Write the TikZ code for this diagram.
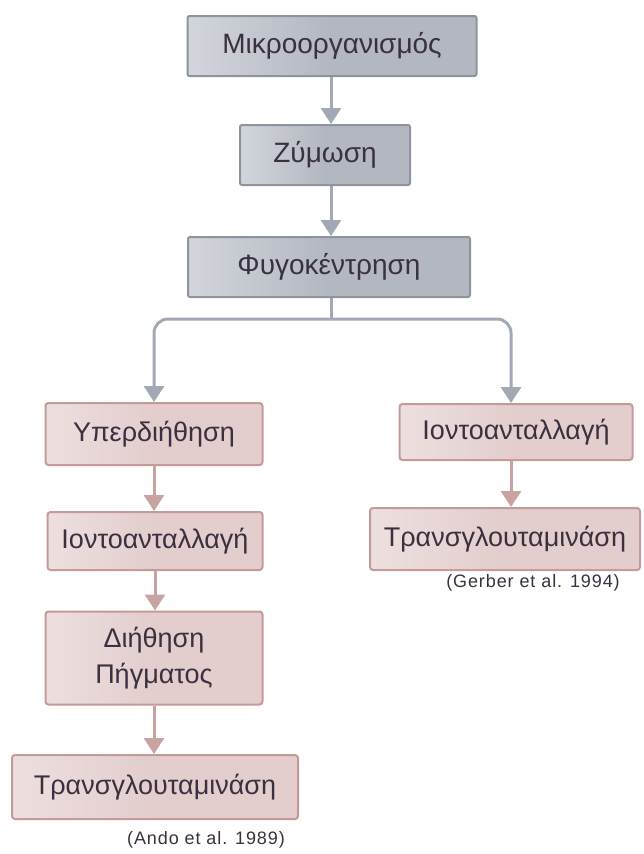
\documentclass[tikz,border=0pt]{standalone}
\usepackage{fontspec}
\setmainfont{Liberation Sans}
\usetikzlibrary{arrows.meta,positioning}
\definecolor{grayfill}{HTML}{B3B7C0}
\definecolor{graylite}{HTML}{D2D5DB}
\definecolor{grayedge}{HTML}{8E939C}
\definecolor{grayarrow}{HTML}{A2A9B4}
\definecolor{pinkfill}{HTML}{E3CDCD}
\definecolor{pinklite}{HTML}{EEDFDF}
\definecolor{pinkedge}{HTML}{C49A9A}
\definecolor{pinkarrow}{HTML}{C9A2A2}
\definecolor{txt}{HTML}{3A3040}
\tikzset{
  graybox/.style={draw=grayedge, line width=2pt, rounded corners=2pt,
    left color=graylite, right color=grayfill, middle color=grayfill,
    text=txt, font=\fontsize{28}{32}\selectfont, minimum height=60pt, inner xsep=8pt},
  pinkbox/.style={draw=pinkedge, line width=2pt, rounded corners=3pt,
    left color=pinklite, right color=pinkfill, middle color=pinkfill,
    text=txt, font=\fontsize{27}{32}\selectfont, minimum height=58pt, align=center},
  grayarr/.style={draw=grayarrow, line width=3pt, -{Triangle[width=20pt,length=16pt]}, rounded corners=14pt},
  grayline/.style={draw=grayarrow, line width=3pt},
  pinkarr/.style={draw=pinkarrow, line width=3pt, -{Triangle[width=20pt,length=16pt]}},
  cite/.style={text=txt, font=\fontsize{18}{20}\selectfont\addfontfeature{LetterSpace=5}}
}
\begin{document}
\begin{tikzpicture}[x=1pt,y=-1pt]
\useasboundingbox (0,0) rectangle (643,854);
\node[graybox, minimum width=289pt] (mikro) at (332,46) {Μικροοργανισμός};
\node[graybox, minimum width=170pt] (zym) at (325,155) {Ζύμωση};
\node[graybox, minimum width=282pt] (fyg) at (329,267) {Φυγοκέντρηση};
\node[pinkbox, minimum width=217pt, minimum height=62pt] (yper) at (154,434) {Υπερδιήθηση};
\node[pinkbox, minimum width=215pt] (ionL) at (155,541) {Ιοντοανταλλαγή};
\node[pinkbox, minimum width=217pt, minimum height=93pt] (dii) at (154,658) {Διήθηση\\[4pt]Πήγματος};
\node[pinkbox, minimum width=286pt, minimum height=64pt] (transL) at (155,787) {Τρανσγλουταμινάση};
\node[cite] (ando) at (206,840) {(Ando et al. 1989)};
\node[cite] (gerber) at (533,583) {(Gerber et al. 1994)};
\node[pinkbox, minimum width=233pt, minimum height=56pt] (ionR) at (516,432) {Ιοντοανταλλαγή};
\node[pinkbox, minimum width=270pt, minimum height=62pt] (transR) at (505,539) {Τρανσγλουταμινάση};
% vertical flow through the grey stages
\coordinate (axis) at (331,0);
\draw[grayarr] (mikro.south -| axis) -- (zym.north -| axis);
\draw[grayarr] (zym.south -| axis) -- (fyg.north -| axis);
% split into the two purification routes
\coordinate (split) at (331,319);
\draw[grayline] (fyg.south -| split) -- (split);
\draw[grayarr] (split) -| (yper.north);
\draw[grayarr] (split) -| (ionR.north -| 511,0);
% pink process chains
\draw[pinkarr] (yper.south) -- (ionL.north -| yper.south);
\draw[pinkarr] (ionL.south) -- (dii.north -| ionL.south);
\draw[pinkarr] (dii.south) -- (transL.north -| dii.south);
\draw[pinkarr] (ionR.south -| 511,0) -- (transR.north -| 511,0);
\end{tikzpicture}
\end{document}
